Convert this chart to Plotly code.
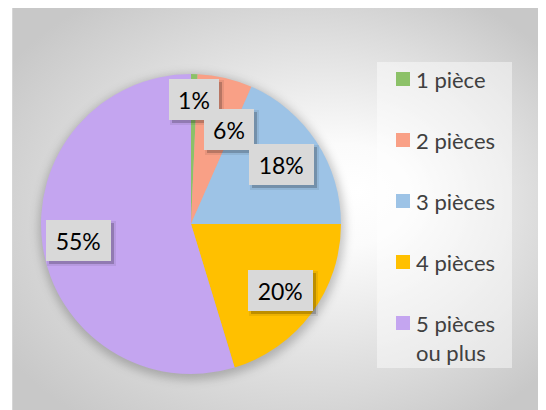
import math
import base64
import plotly.graph_objects as go

# ---------------- data ----------------
categories = ["1 pièce", "2 pièces", "3 pièces", "4 pièces", "5 pièces ou plus"]
legend_labels = ["1 pièce", "2 pièces", "3 pièces", "4 pièces", "5 pièces<br>ou plus"]
shares = [0.7, 5.9, 18.4, 20.3, 54.7]
colors = ["#8cc168", "#f9a086", "#9dc3e6", "#ffc000", "#c4a5f0"]

# ---------------- layout constants ----------------
W, H = 546, 410
OFF = 8                               # page body margin compensation
CX, CY, R = 191 - OFF, 224 - OFF, 150  # pie centre / radius in figure pixels
label_r = [0.83, 0.68, 0.72, 0.74, 0.76]   # radial position of data labels
label_dang = [0, 8.5, 0, 0, 0]              # angular nudge (deg) to avoid overlap
FONT = "Lato, 'Open Sans', sans-serif"


def px(x):
    return x / W


def py(y):
    return 1 - y / H


fig = go.Figure(
    go.Pie(
        labels=categories,
        values=shares,
        sort=False,
        direction="clockwise",
        rotation=0,
        marker=dict(colors=colors, line=dict(width=0)),
        textinfo="none",
        showlegend=False,
        hoverinfo="label+percent",
        domain=dict(x=[px(CX - R), px(CX + R)], y=[py(CY + R), py(CY - R)]),
    )
)

# ---------------- background (radial gradient) ----------------
BX, BY = 12 - OFF, 5 - OFF
LX0, LY0, LX1, LY1 = 377 - OFF, 62 - OFF, 512 - OFF, 368 - OFF
svg = f'''<svg xmlns="http://www.w3.org/2000/svg" width="{W}" height="{H}" viewBox="0 0 {W} {H}" preserveAspectRatio="none">
<defs><radialGradient id="g" cx="0.5" cy="0.5" r="0.62" fx="0.64" fy="0.45">
<stop offset="0" stop-color="#ffffff"/><stop offset="0.2" stop-color="#fbfbfb"/><stop offset="1" stop-color="#c8c8c8"/>
</radialGradient>
<filter id="b" x="-20%" y="-20%" width="140%" height="140%"><feGaussianBlur stdDeviation="5"/></filter></defs>
<rect width="{W}" height="{H}" fill="#ffffff"/>
<rect x="{BX + 0.5}" y="{BY + 0.5}" width="{W - BX}" height="{H - BY}" fill="url(#g)" stroke="#d6d6d6" stroke-width="1"/>
<circle cx="{CX + 1}" cy="{CY + 3}" r="{R + 3}" fill="#000000" fill-opacity="0.22" filter="url(#b)"/>
<rect x="{LX0}" y="{LY0}" width="{LX1 - LX0}" height="{LY1 - LY0}" fill="#ffffff" fill-opacity="0.45"/>
</svg>'''
b64 = base64.b64encode(svg.encode("utf-8")).decode("ascii")

shapes = []
annotations = []

# ---------------- data labels with boxes ----------------
total = sum(shares)
cum = 0.0
for v, f, da in zip(shares, label_r, label_dang):
    theta = math.radians(360 * (cum + v / 2) / total + da)
    cum += v
    lx = CX + f * R * math.sin(theta)
    ly = CY - f * R * math.cos(theta)
    txt = f"{round(100 * v / total)}%"
    bw = 21 + 14.5 * len(txt)
    bh = 41
    for extra, alpha in [(4, 0.07), (0, 0.2)]:
        annotations.append(dict(
            x=px(lx), y=py(ly), xref="paper", yref="paper", showarrow=False,
            xanchor="center", yanchor="middle",
            text=" ", width=bw + extra, height=bh + extra, xshift=3, yshift=-3,
            bgcolor=f"rgba(0,0,0,{alpha})", borderpad=0, borderwidth=0,
            font=dict(size=10),
        ))
    annotations.append(dict(
        x=px(lx), y=py(ly), xref="paper", yref="paper", showarrow=False,
        xanchor="center", yanchor="middle",
        text=txt, width=bw, height=bh, bgcolor="#d9d9d9", borderpad=0, borderwidth=0,
        font=dict(family=FONT, size=23, color="#000000"),
    ))

# ---------------- legend (drawn manually) ----------------
LEG_TOP, LEG_GAP = 79 - OFF, 61
for i, (lab, col) in enumerate(zip(legend_labels, colors)):
    row = LEG_TOP + i * LEG_GAP
    shapes.append(dict(type="rect", xref="paper", yref="paper",
                       x0=px(396 - OFF), x1=px(410 - OFF), y0=py(row + 7), y1=py(row - 7),
                       fillcolor=col, line=dict(width=0)))
    annotations.append(dict(
        x=px(414 - OFF), y=py(row - 15), xref="paper", yref="paper", showarrow=False,
        xanchor="left", yanchor="top", align="left", text=lab,
        font=dict(family=FONT, size=22, color="#404040"),
    ))

fig.update_layout(
    width=W, height=H,
    margin=dict(l=0, r=0, t=0, b=0),
    paper_bgcolor="#ffffff",
    plot_bgcolor="rgba(0,0,0,0)",
    showlegend=False,
    images=[dict(source="data:image/svg+xml;base64," + b64, xref="paper", yref="paper",
                 x=0, y=1, sizex=1, sizey=1, sizing="stretch", layer="below",
                 xanchor="left", yanchor="top")],
    shapes=shapes,
    annotations=annotations,
)

fig.write_html("out.html")
